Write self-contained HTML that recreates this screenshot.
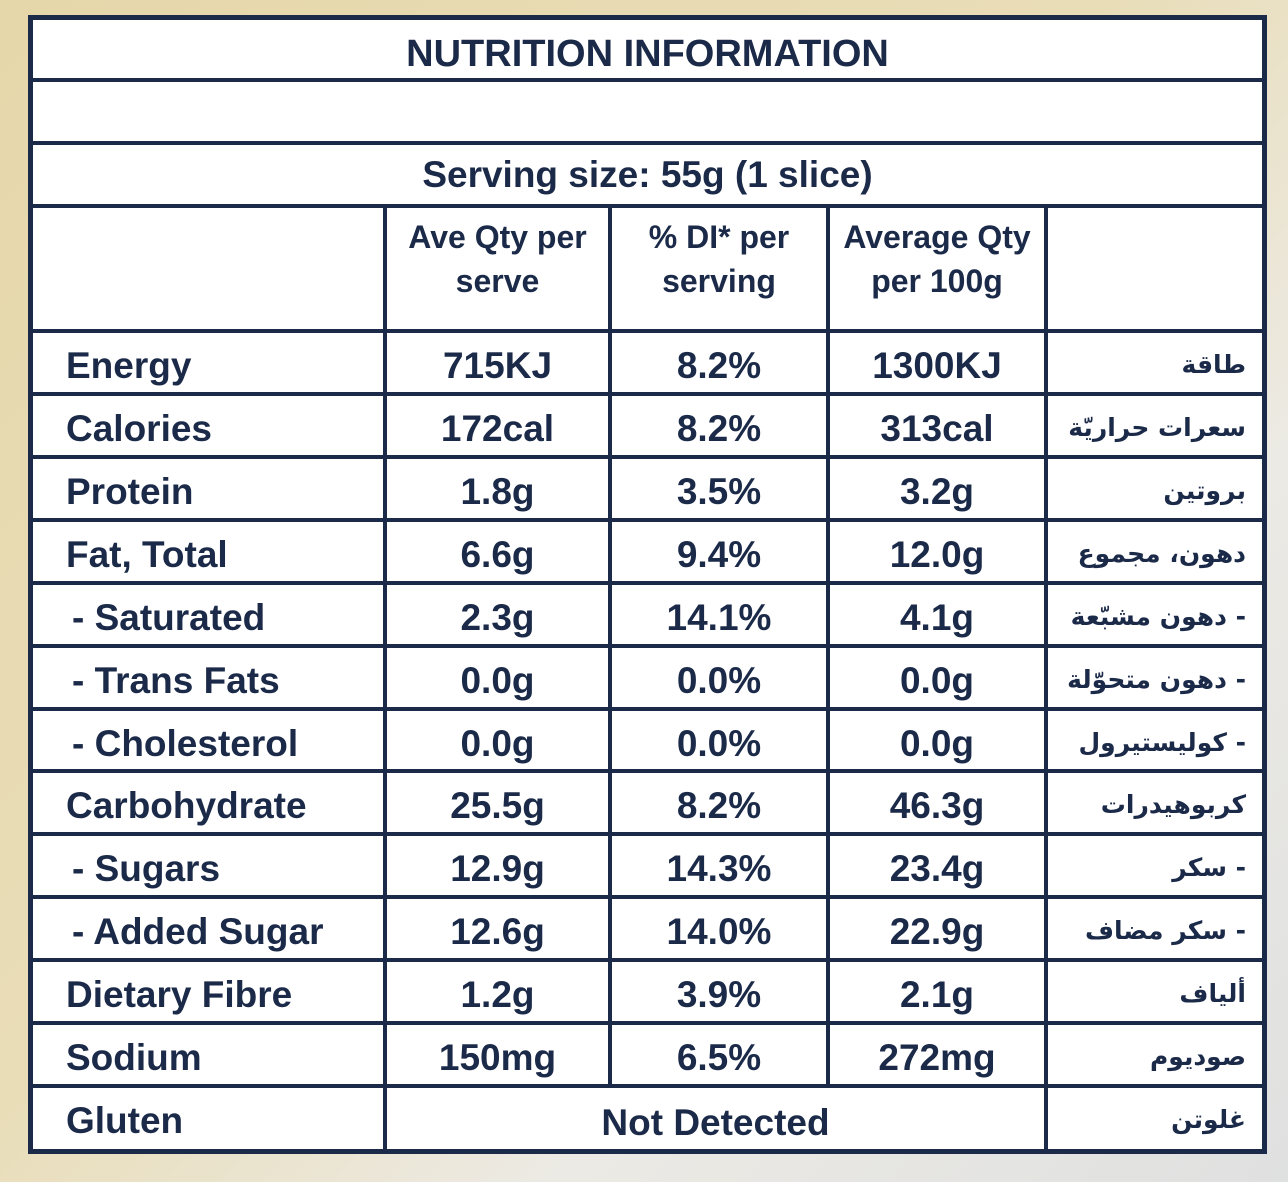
<!DOCTYPE html>
<html><head><meta charset="utf-8"><style>
body{margin:0;width:1288px;height:1182px;overflow:hidden;position:relative;
background:linear-gradient(135deg,#e6d7aa 0%,#e9ddb8 45%,#eceae4 70%,#dfe0e0 100%);
font-family:"Liberation Sans","Noto Sans CJK SC",sans-serif;color:#1b2a48;}
#tbl{position:absolute;left:28px;top:16px;width:1237px;height:1137px;background:#fff;}
.h{position:absolute;height:4px;background:#1b2a48;}
.v{position:absolute;width:4px;background:#1b2a48;}
.t{position:absolute;font-weight:bold;white-space:nowrap;}
.c{text-align:center;}
.l{font-size:37px;}
.ar{position:absolute;right:42px;font-size:25px;font-weight:bold;direction:rtl;font-family:"DejaVu Sans",sans-serif;}
</style></head><body>
<div id="tbl"></div>
<div class="h" style="left:28px;top:15px;width:1239px;height:5px"></div>
<div class="h" style="left:28px;top:1149px;width:1239px;height:5px"></div>
<div class="v" style="left:28px;top:15px;height:1139px;width:5px"></div>
<div class="v" style="left:1262px;top:15px;height:1139px;width:5px"></div>
<div class="h" style="left:28px;top:78px;width:1239px"></div>
<div class="h" style="left:28px;top:141px;width:1239px"></div>
<div class="h" style="left:28px;top:204px;width:1239px"></div>
<div class="h" style="left:28px;top:329px;width:1239px"></div>
<div class="h" style="left:28px;top:392px;width:1239px"></div>
<div class="h" style="left:28px;top:455px;width:1239px"></div>
<div class="h" style="left:28px;top:518px;width:1239px"></div>
<div class="h" style="left:28px;top:581px;width:1239px"></div>
<div class="h" style="left:28px;top:644px;width:1239px"></div>
<div class="h" style="left:28px;top:707px;width:1239px"></div>
<div class="h" style="left:28px;top:769px;width:1239px"></div>
<div class="h" style="left:28px;top:832px;width:1239px"></div>
<div class="h" style="left:28px;top:895px;width:1239px"></div>
<div class="h" style="left:28px;top:958px;width:1239px"></div>
<div class="h" style="left:28px;top:1021px;width:1239px"></div>
<div class="h" style="left:28px;top:1084px;width:1239px"></div>
<div class="v" style="left:383px;top:204px;height:947px"></div>
<div class="v" style="left:608px;top:204px;height:882px"></div>
<div class="v" style="left:826px;top:204px;height:882px"></div>
<div class="v" style="left:1044px;top:204px;height:947px"></div>

<div class="t c" style="left:28px;width:1239px;top:33px;font-size:38px">NUTRITION INFORMATION</div>
<div class="t c" style="left:28px;width:1239px;top:154px;font-size:37px">Serving size: 55g (1 slice)</div>
<div class="t c" style="left:387px;width:221px;top:215px;font-size:32px;line-height:44px">Ave Qty per<br>serve</div>
<div class="t c" style="left:612px;width:214px;top:215px;font-size:32px;line-height:44px">% DI* per<br>serving</div>
<div class="t c" style="left:830px;width:214px;top:215px;font-size:32px;line-height:44px">Average Qty<br>per 100g</div>

<div id="rows"></div>
<script>
var rows=[
["Energy","715KJ","8.2%","1300KJ","طاقة"],
["Calories","172cal","8.2%","313cal","سعرات حراريّة"],
["Protein","1.8g","3.5%","3.2g","بروتين"],
["Fat, Total","6.6g","9.4%","12.0g","دهون، مجموع"],
[" - Saturated","2.3g","14.1%","4.1g","- دهون مشبّعة"],
[" - Trans Fats","0.0g","0.0%","0.0g","- دهون متحوّلة"],
[" - Cholesterol","0.0g","0.0%","0.0g","- كوليستيرول"],
["Carbohydrate","25.5g","8.2%","46.3g","كربوهيدرات"],
[" - Sugars","12.9g","14.3%","23.4g","- سكر"],
[" - Added Sugar","12.6g","14.0%","22.9g","- سكر مضاف"],
["Dietary Fibre","1.2g","3.9%","2.1g","ألياف"],
["Sodium","150mg","6.5%","272mg","صوديوم"],
["Gluten","","","","غلوتن"]];
var tops=[333,396,459,522,585,648,711,773,836,899,962,1025,1088];
var h="";
rows.forEach(function(r,i){
 var y=tops[i]+11;
 var lx=r[0].charAt(0)==" "?72:66;
 h+='<div class="t l" style="left:'+lx+'px;top:'+(y+1)+'px">'+r[0].trim()+'</div>';
 if(i<12){
  h+='<div class="t c l" style="left:387px;width:221px;top:'+(y+1)+'px">'+r[1]+'</div>';
  h+='<div class="t c l" style="left:612px;width:214px;top:'+(y+1)+'px">'+r[2]+'</div>';
  h+='<div class="t c l" style="left:830px;width:214px;top:'+(y+1)+'px">'+r[3]+'</div>';
 } else {
  h+='<div class="t c l" style="left:387px;width:657px;top:'+(y+3)+'px">Not Detected</div>';
 }
 h+='<div class="ar" style="top:'+(y+6)+'px">'+r[4]+'</div>';
});
document.getElementById("rows").innerHTML=h;
</script>
</body></html>
